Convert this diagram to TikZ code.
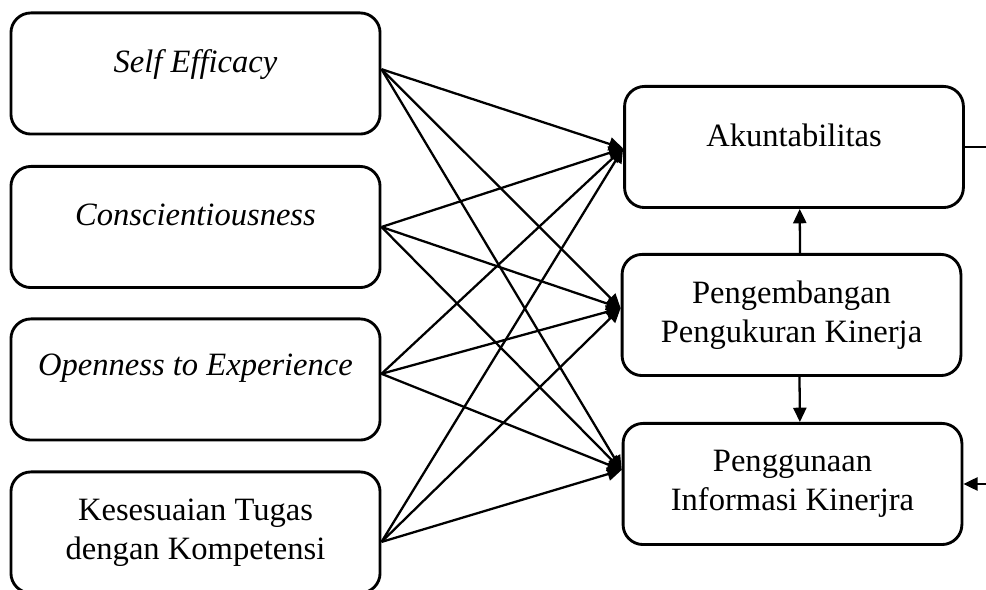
\documentclass[tikz,border=0pt]{standalone}
\usepackage{fontspec}
\setmainfont{Liberation Serif}
\usetikzlibrary{arrows.meta}
\tikzstyle{every node}=[font=\fontsize{11.4}{13.8}\selectfont]
\tikzstyle{box}=[draw=black,line width=1pt,rounded corners=7pt,align=center,inner sep=2pt]
\tikzstyle{leftbox}=[box,minimum width=129.2pt,minimum height=42.4pt]
\tikzstyle{rightbox}=[box,minimum width=118.6pt,minimum height=42.4pt]
\tikzstyle{link}=[line width=0.8pt,-{Triangle[length=5pt,width=4.6pt]}]

\begin{document}
\begin{tikzpicture}[x=0.35pt,y=-0.35pt]
  \useasboundingbox (0,0) rectangle (986,590);
  \node[leftbox,text depth=9pt] (se) at (195.5,73.5) {\textit{Self Efficacy}};
  \node[leftbox,text depth=8.5pt] (cs) at (195.5,227) {\textit{Conscientiousness}};
  \node[leftbox,text depth=10pt] (op) at (195.5,379.5) {\textit{Openness to Experience}};
  \node[leftbox] (ks) at (195.5,532.5) {Kesesuaian Tugas\\dengan Kompetensi};

  \node[rightbox,text depth=8.5pt] (ak) at (794,147) {Akuntabilitas};
  \node[rightbox] (pk) at (791.5,315) {Pengembangan\\Pengukuran Kinerja};
  \node[rightbox] (pg) at (792.5,484) {Penggunaan\\Informasi Kinerjra};

  \coordinate (seOut) at ([yshift=1.5pt]se.east);
  \coordinate (csOut) at (cs.east);
  \coordinate (opOut) at ([yshift=2pt]op.east);
  \coordinate (ksOut) at ([yshift=-3.3pt]ks.east);
  \coordinate (akIn) at ([yshift=-0.5pt]ak.west);
  \coordinate (pkIn) at ([yshift=2.4pt]pk.west);
  \coordinate (pgIn) at ([yshift=4.9pt]pg.west);

  \foreach \src in {se,cs,op,ks}
    \foreach \dst in {ak,pk,pg}
      \draw[link] (\src Out) -- (\dst In);

  \draw[link] ([xshift=3pt]pk.north) -- ([xshift=2pt]ak.south);
  \draw[link] ([xshift=2.8pt]pk.south) -- ([xshift=2.6pt]pg.north);

  \coordinate (akRight) at (986,147);
  \coordinate (pgRight) at (986,484);
  \draw[line width=0.8pt] (ak.east) -- (akRight);
  \draw[link] (pgRight) -- (pg.east);
\end{tikzpicture}
\end{document}
